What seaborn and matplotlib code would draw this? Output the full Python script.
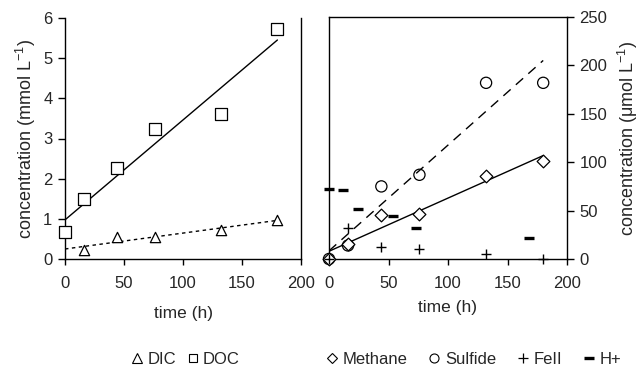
import numpy as np
import pandas as pd
import matplotlib
matplotlib.use("Agg")
import matplotlib.pyplot as plt
import seaborn as sns
from matplotlib.lines import Line2D

sns.set_theme(style="ticks")
plt.rcParams['font.family'] = ['Liberation Sans', 'DejaVu Sans']
plt.rcParams['mathtext.fontset'] = 'custom'
plt.rcParams['mathtext.rm'] = 'Liberation Sans'

# ---- data (left panel, mmol/L) ----
t_doc = [0, 16, 44, 76, 132, 180]
doc = [0.67, 1.50, 2.27, 3.23, 3.60, 5.72]
t_dic = [16, 44, 76, 132, 180]
dic = [0.22, 0.55, 0.55, 0.73, 0.97]

# ---- data (right panel, umol/L) ----
t_r = [0, 16, 44, 76, 132, 180]
methane = [0, 15, 45, 47, 86, 101]
sulfide = [0, 14, 75, 87, 182, 182]
t_fe = [0, 16, 44, 76, 132, 180]
fe2 = [0, 32, 12, 10.5, 5.6, 0.5]
t_h = [0, 12, 24, 54, 73, 168]
hplus = [72, 71, 52, 44.5, 32, 22]

fig = plt.figure(figsize=(6.44, 3.68), dpi=100)
axL = fig.add_axes([65/644, 1-259/368, 236/644, 241/368])
axR = fig.add_axes([329/644, 1-259/368, 238/644, 242/368])

FS = 12

def fit_line(ax, t, y, ls, t0=0):
    p = np.polyfit(t, y, 1)
    xs = np.array([t0, max(t)])
    df = pd.DataFrame({'t': xs, 'y': np.polyval(p, xs)})
    sns.lineplot(data=df, x='t', y='y', ax=ax, color='black', lw=1.0,
                 linestyle=ls, legend=False)

# left panel
fit_line(axL, t_doc, doc, '-')
fit_line(axL, t_dic, dic, (0, (2.5, 2.5)))
sns.scatterplot(x=t_doc, y=doc, ax=axL, marker='s', s=65, facecolor='white',
                edgecolor='black', linewidth=0.9, zorder=3, clip_on=False)
sns.scatterplot(x=t_dic, y=dic, ax=axL, marker='^', s=55, facecolor='white',
                edgecolor='black', linewidth=0.9, zorder=3, clip_on=False)
axL.set_xlim(0, 200)
axL.set_ylim(0, 6)
axL.set_xticks([0, 50, 100, 150, 200])
axL.set_yticks(range(0, 7))
axL.spines['top'].set_visible(False)
axL.spines['right'].set_visible(True)
axL.set_xlabel('time (h)', fontsize=12.5, labelpad=11)
axL.set_ylabel(r'concentration (mmol L$^{-1}$)', fontsize=13, labelpad=4)

# right panel
fit_line(axR, t_r, sulfide, (0, (7, 5)))
fit_line(axR, t_r, methane, '-')
sns.scatterplot(x=t_r, y=sulfide, ax=axR, marker='o', s=65, facecolor='none',
                edgecolor='black', linewidth=0.9, zorder=3, clip_on=False)
sns.scatterplot(x=t_r, y=methane, ax=axR, marker='D', s=42, facecolor='white',
                edgecolor='black', linewidth=0.9, zorder=3, clip_on=False)
sns.scatterplot(x=t_fe, y=fe2, ax=axR, marker='+', s=55, color='black',
                linewidth=1.0, zorder=3, clip_on=False)
sns.scatterplot(x=t_h, y=hplus, ax=axR, marker='_', s=55, color='black',
                linewidth=2.4, zorder=3, clip_on=False)
axR.set_xlim(0, 200)
axR.set_ylim(0, 250)
axR.set_xticks([0, 50, 100, 150, 200])
axR.set_yticks([0, 50, 100, 150, 200, 250])
axR.yaxis.tick_right()
axR.yaxis.set_label_position('right')
for s in ['top', 'right', 'left', 'bottom']:
    axR.spines[s].set_visible(True)
axR.set_xlabel('time (h)', fontsize=12.5, labelpad=7)
axR.set_ylabel(r'concentration (μmol L$^{-1}$)', fontsize=13, labelpad=6)

for ax in (axL, axR):
    ax.tick_params(labelsize=FS, width=1, color='black')
    ax.tick_params(axis='x', length=4, pad=8)
    ax.tick_params(axis='y', length=5, pad=4)
    for s in ax.spines.values():
        s.set_linewidth(1.0)
        s.set_color('black')
    ax.set_facecolor('white')

def mk(marker, ms, lw=0.8):
    return Line2D([], [], linestyle='none', marker=marker, markersize=ms,
                  markerfacecolor='white', markeredgecolor='black',
                  markeredgewidth=lw, color='black')

hL = [mk('^', 6.5), mk('s', 6)]
fig.legend(hL, ['DIC', 'DOC'], loc='center', bbox_to_anchor=(186/644, 1-359/368),
           ncol=2, frameon=False, fontsize=12, handlelength=0.6,
           handletextpad=0.3, columnspacing=0.7)
hR = [mk('D', 5), mk('o', 6.5), mk('+', 7.5, 0.9), mk('_', 7.5, 2.4)]
fig.legend(hR, ['Methane', 'Sulfide', 'FeII', 'H+'], loc='center',
           bbox_to_anchor=(474/644, 1-359/368), ncol=4, frameon=False,
           fontsize=12, handlelength=0.6, handletextpad=0.35, columnspacing=1.3)

fig.savefig('out.png', dpi=100, facecolor='white')
